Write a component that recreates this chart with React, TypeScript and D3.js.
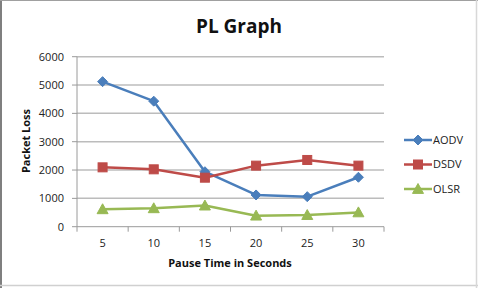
import React from "react";
import * as d3 from "d3";

const categories = ["5", "10", "15", "20", "25", "30"];
const aodv = [5120, 4430, 1940, 1120, 1060, 1745];
const dsdv = [2095, 2025, 1730, 2155, 2355, 2155];
const olsr = [615, 650, 745, 390, 410, 505];
const yTicks = [0, 1000, 2000, 3000, 4000, 5000, 6000];

const seriesList = [
  { name: "AODV", values: aodv, color: "#4A7EBB", marker: "diamond" },
  { name: "DSDV", values: dsdv, color: "#BE4B48", marker: "square" },
  { name: "OLSR", values: olsr, color: "#98B954", marker: "triangle" },
];

const W = 478;
const H = 288;
const FONT = "'Open Sans', 'Noto Sans', sans-serif";

function Marker({ type, x, y, color }: { type: string; x: number; y: number; color: string }) {
  if (type === "diamond") {
    const s = 5;
    return <path d={`M${x},${y - s}L${x + s},${y}L${x},${y + s}L${x - s},${y}Z`} fill={color} stroke={color} strokeWidth={1} />;
  }
  if (type === "square") {
    const s = 4.5;
    return <rect x={x - s} y={y - s} width={2 * s} height={2 * s} fill={color} stroke={color} strokeWidth={1} />;
  }
  const s = 5.5;
  return <path d={`M${x},${y - s}L${x + s},${y + s * 0.8}L${x - s},${y + s * 0.8}Z`} fill={color} stroke={color} strokeWidth={1} />;
}

export default function App() {
  const x = d3.scaleBand<string>().domain(categories).range([77, 384]);
  const y = d3.scaleLinear().domain([0, 6000]).range([226.7, 56.7]);
  const cx = (c: string) => (x(c) as number) + x.bandwidth() / 2;
  const line = d3
    .line<number>()
    .x((_, i) => cx(categories[i]))
    .y((v) => y(v));
  const boundaries = categories.map((c) => x(c) as number).concat([384]);
  const grid = "#bcbcbc";
  const axis = "#9a9a9a";

  return (
    <svg width={W} height={H} style={{ position: "fixed", left: 0, top: 0, background: "#fff" }} fontFamily={FONT}>
      <rect x={0} y={0} width={W} height={H} fill="#fff" />
      {/* border */}
      <line x1={1} y1={0} x2={1} y2={H} stroke="#7f7f7f" strokeWidth={2} />
      <line x1={0} y1={0.5} x2={W} y2={0.5} stroke="#a0a0a0" strokeWidth={1} />
      <line x1={0} y1={285.5} x2={W} y2={285.5} stroke="#d0d0d0" strokeWidth={1.5} />
      <line x1={476.5} y1={0} x2={476.5} y2={H} stroke="#d8d8d8" strokeWidth={1.5} />

      <text x={239} y={33} textAnchor="middle" fontSize={19} fontWeight="bold" fill="#111">
        PL Graph
      </text>

      {/* gridlines */}
      {yTicks.slice(1).map((t) => (
        <line key={t} x1={77} x2={384} y1={y(t)} y2={y(t)} stroke={grid} strokeWidth={1.5} />
      ))}
      {/* y axis */}
      <line x1={77} x2={77} y1={y(6000)} y2={y(0)} stroke={axis} strokeWidth={1} />
      {yTicks.map((t) => (
        <g key={t}>
          <line x1={72} x2={77} y1={y(t)} y2={y(t)} stroke={axis} />
          <text x={64} y={y(t)} dy="0.35em" textAnchor="end" fontSize={11} fill="#222">
            {t}
          </text>
        </g>
      ))}
      {/* x axis */}
      <line x1={77} x2={384} y1={y(0)} y2={y(0)} stroke={axis} strokeWidth={1} />
      {boundaries.map((b, i) => (
        <line key={i} x1={b} x2={b} y1={y(0)} y2={y(0) + 5} stroke={axis} />
      ))}
      {categories.map((c) => (
        <text key={c} x={cx(c)} y={243} dy="0.35em" textAnchor="middle" fontSize={11} fill="#222">
          {c}
        </text>
      ))}

      <text x={230} y={263} dy="0.35em" textAnchor="middle" fontSize={11} fontWeight="bold" fill="#111">
        Pause Time in Seconds
      </text>
      <text
        transform={`translate(26,141) rotate(-90)`}
        textAnchor="middle"
        dy="0.35em"
        fontSize={11}
        fontWeight="bold"
        fill="#111"
      >
        Packet Loss
      </text>

      {/* series */}
      {seriesList.map((s) => (
        <g key={s.name}>
          <path d={line(s.values) || ""} fill="none" stroke={s.color} strokeWidth={2.5} strokeLinejoin="round" />
          {s.values.map((v, i) => (
            <Marker key={i} type={s.marker} x={cx(categories[i])} y={y(v)} color={s.color} />
          ))}
        </g>
      ))}

      {/* legend */}
      {seriesList.map((s, i) => {
        const ly = 140 + i * 24.5;
        return (
          <g key={s.name}>
            <line x1={404} x2={432} y1={ly} y2={ly} stroke={s.color} strokeWidth={2.5} />
            <Marker type={s.marker} x={418} y={ly} color={s.color} />
            <text x={433} y={ly} dy="0.35em" fontSize={11} fill="#222">
              {s.name}
            </text>
          </g>
        );
      })}
    </svg>
  );
}
